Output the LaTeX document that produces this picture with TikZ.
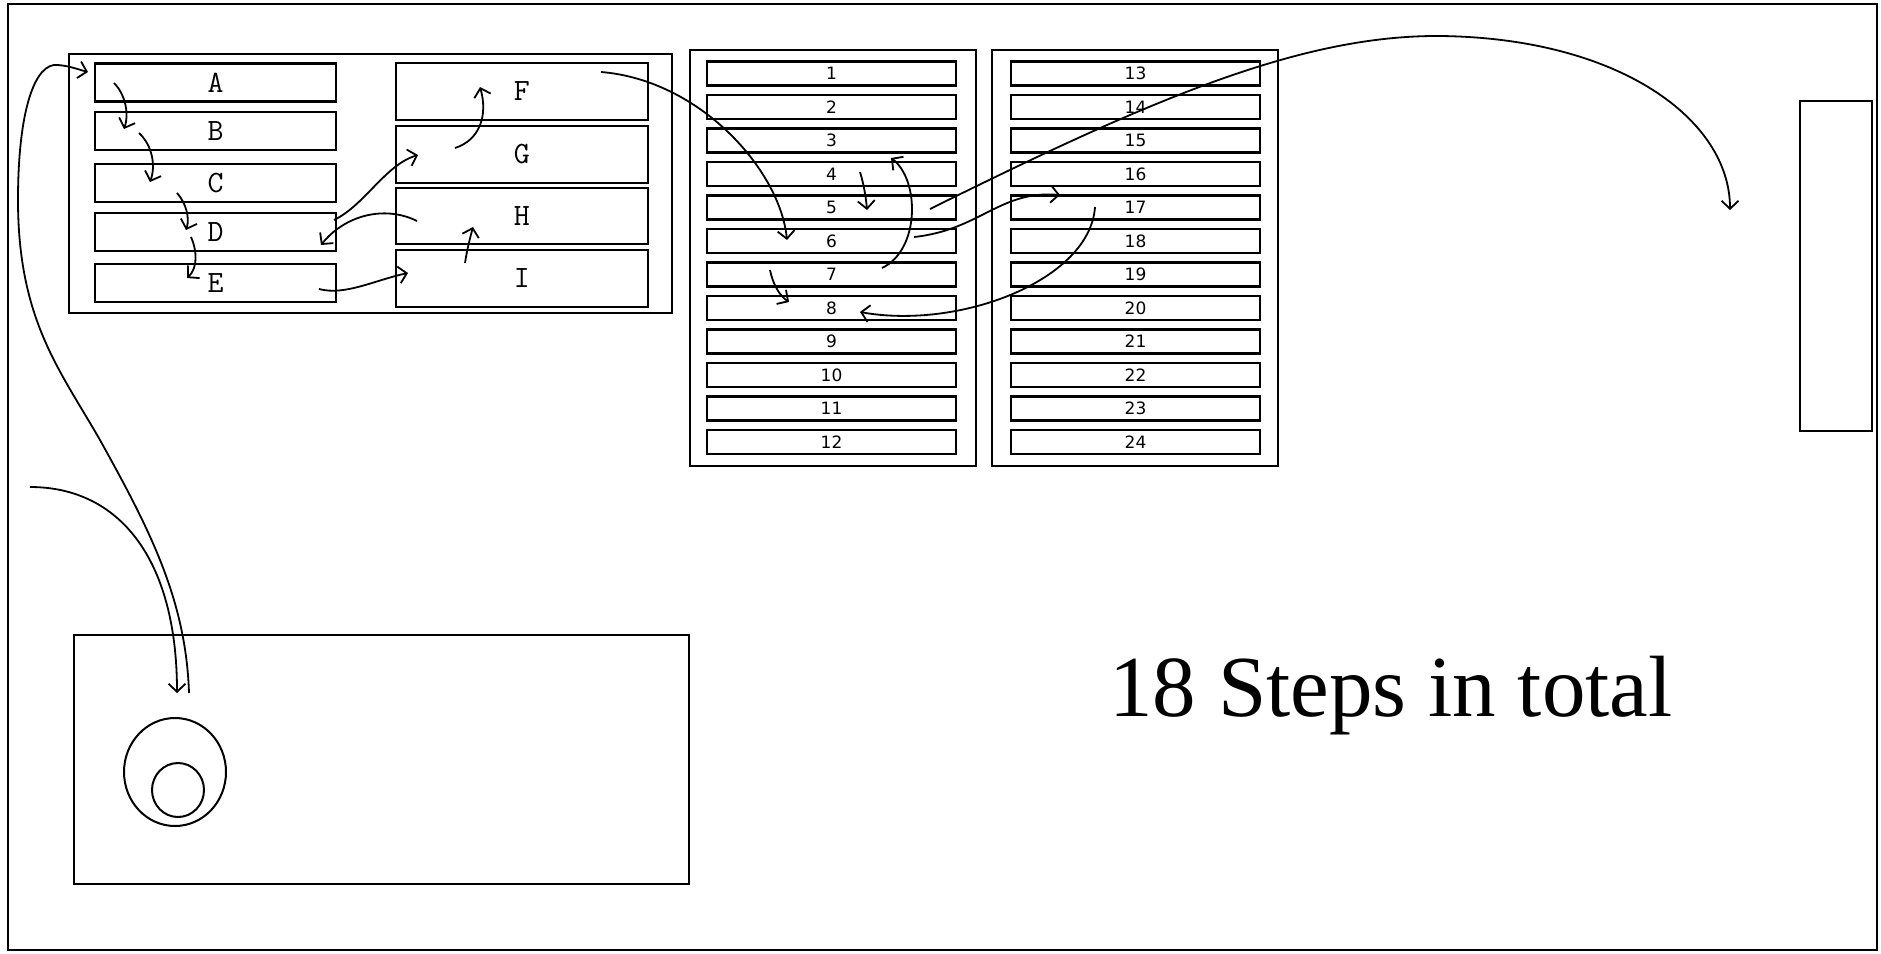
\documentclass[tikz,border=0pt]{standalone}
\usepackage{fontspec}
\setmainfont{Liberation Serif}
\newfontfamily\numfont{DejaVu Sans}
\usetikzlibrary{arrows.meta,shapes.geometric}
\begin{document}
\begin{tikzpicture}[x=1pt,y=-1pt,
  box/.style={draw, line width=2.4pt, inner sep=0pt, outer sep=0pt},
  cell/.style={box, line width=2.2pt, minimum height=24pt, minimum width=249pt, font=\numfont\fontsize{17}{17}\selectfont},
  lcell/.style={box, minimum width=241pt, minimum height=38pt, font=\ttfamily\fontsize{31}{31}\selectfont},
  rcell/.style={box, minimum width=252pt, minimum height=57pt, font=\ttfamily\fontsize{31}{31}\selectfont},
  oval/.style={draw, ellipse, line width=2pt, inner sep=0pt},
  arr/.style={line width=1.8pt, -{Straight Barb[length=8pt,width=17pt,line width=1.8pt]}},
]
\useasboundingbox (0,0) rectangle (1881,953);
\node[box, minimum width=1869pt, minimum height=946pt] (frame) at (942.5,477) {};

% group of letter boxes
\node[box, minimum width=603pt, minimum height=259pt] (grp) at (370.5,183.5) {};
\node[lcell] (A) at (215.5,82.5) {A};
\node[lcell] (B) at (215.5,131) {B};
\node[lcell] (C) at (215.5,183) {C};
\node[lcell] (D) at (215.5,232) {D};
\node[lcell] (E) at (215.5,283) {E};
\node[rcell] (F) at (521.75,91.5) {F};
\node[rcell] (G) at (521.75,154.5) {G};
\node[rcell, minimum height=56pt] (H) at (521.75,216) {H};
\node[rcell] (I) at (521.75,278.5) {I};

% columns of numbered rows
\node[box, minimum width=286pt, minimum height=416pt] (colA) at (833,258) {};
\node[box, minimum width=286pt, minimum height=416pt] (colB) at (1135,258) {};
\foreach \i in {1,...,12} {
  \node[cell] (r\i) at (831.5,{73.5+(\i-1)*33.5}) {\i};
}
\foreach \i in {13,...,24} {
  \node[cell] (r\i) at (1135.5,{73.5+(\i-13)*33.5}) {\i};
}

% right side box
\node[box, line width=2pt, minimum width=72pt, minimum height=330pt] (side) at (1836,266) {};

% bottom box with ellipses
\node[box, line width=2.2pt, minimum width=615pt, minimum height=249pt] (bottom) at (381.5,759.5) {};
\node[oval, minimum width=102pt, minimum height=108pt] (outer) at (175,772) {};
\node[oval, minimum width=52pt, minimum height=54pt] (inner) at (178,790) {};

% caption
\node[font=\fontsize{87}{87}\selectfont, anchor=base, inner sep=0pt] (total) at (1391,716) {18 Steps in total};

% connector end points
\coordinate (a1) at (114,83);   \coordinate (b1) at (124,129);
\coordinate (b2) at (139,133);  \coordinate (c1) at (150,182);
\coordinate (c2) at (177,193);  \coordinate (d1) at (186,230);
\coordinate (d2) at (191,237);  \coordinate (e1) at (187,278);
\coordinate (e2) at (319,289);  \coordinate (i1) at (408,273);
\coordinate (i2) at (465,263);  \coordinate (h1) at (473,227);
\coordinate (h2) at (417,221);  \coordinate (d3) at (321,245);
\coordinate (d4) at (334,220);  \coordinate (g1) at (418,155);
\coordinate (g2) at (455,148);  \coordinate (f1) at (480,87);
\coordinate (f2) at (601,72);   \coordinate (n6a) at (787,240);
\coordinate (n4a) at (860,172); \coordinate (n5a) at (867,210);
\coordinate (n7a) at (882,268); \coordinate (n4b) at (891,158);
\coordinate (n7b) at (770,270); \coordinate (n8a) at (789,302);
\coordinate (n6b) at (914,237); \coordinate (n17a) at (1060,195);
\coordinate (n17b) at (1095,207); \coordinate (n8b) at (860,312);
\coordinate (n5b) at (930,209); \coordinate (s1) at (1730,210);
\coordinate (edge) at (30,487); \coordinate (o1) at (177,693);
\coordinate (o2) at (189,693);  \coordinate (a0) at (88,72);

% connectors
\draw[arr] (a1) .. controls (126,95) and (129,115) .. (b1);
\draw[arr] (b2) .. controls (152,145) and (156,165) .. (c1);
\draw[arr] (c2) .. controls (186,203) and (190,218) .. (d1);
\draw[arr] (d2) .. controls (197,250) and (198,268) .. (e1);
\draw[arr] (e2) .. controls (345,296) and (375,280) .. (i1);
\draw[arr] (i2) .. controls (467,250) and (470,238) .. (h1);
\draw[arr] (h2) .. controls (385,205) and (345,215) .. (d3);
\draw[arr] (d4) .. controls (365,205) and (385,165) .. (g1);
\draw[arr] (g2) .. controls (480,140) and (488,115) .. (f1);
\draw[arr] (f2) .. controls (700,80) and (780,170) .. (n6a);
\draw[arr] (n4a) .. controls (864,185) and (866,198) .. (n5a);
\draw[arr] (n7a) .. controls (920,250) and (920,180) .. (n4b);
\draw[arr] (n7b) .. controls (773,285) and (780,296) .. (n8a);
\draw[arr] (n6b) .. controls (980,230) and (1000,190) .. (n17a);
\draw[arr] (n17b) .. controls (1090,280) and (960,330) .. (n8b);
\draw[arr] (n5b) .. controls (1150,100) and (1300,35) .. (1440,36) .. controls (1620,38) and (1730,120) .. (s1);
\draw[arr] (edge) .. controls (120,487) and (177,560) .. (o1);
\draw[arr] (o2) .. controls (186,600) and (150,530) .. (100,440)
                .. controls (60,370) and (18,320) .. (18,200)
                .. controls (18,110) and (35,62) .. (58,65)
                .. controls (70,66) and (80,70) .. (a0);
\end{tikzpicture}
\end{document}
